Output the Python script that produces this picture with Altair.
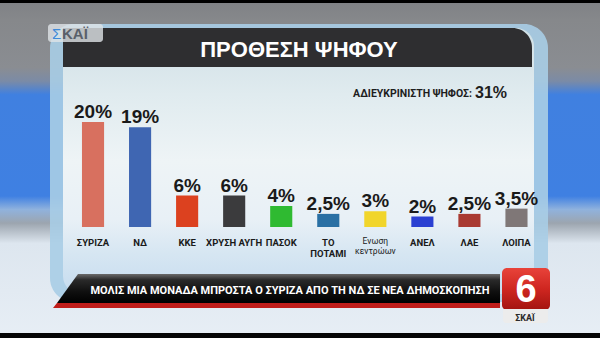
import altair as alt
import pandas as pd

# ---- data ----
parties = ["ΣΥΡΙΖΑ", "ΝΔ", "ΚΚΕ", "ΧΡΥΣΗ ΑΥΓΗ", "ΠΑΣΟΚ", "ΤΟ ΠΟΤΑΜΙ",
           "Ενωση κεντρώων", "ΑΝΕΛ", "ΛΑΕ", "ΛΟΙΠΑ"]
tick_labels = ["ΣΥΡΙΖΑ", "ΝΔ", "ΚΚΕ", "ΧΡΥΣΗ ΑΥΓΗ", "ΠΑΣΟΚ", "ΤΟ\nΠΟΤΑΜΙ",
               "Ενωση\nκεντρώων", "ΑΝΕΛ", "ΛΑΕ", "ΛΟΙΠΑ"]
values = [20, 19, 6, 6, 4, 2.5, 3, 2, 2.5, 3.5]
value_labels = ["20%", "19%", "6%", "6%", "4%", "2,5%", "3%", "2%", "2,5%", "3,5%"]
colors = ["#d8705f", "#3f66b2", "#dc411f", "#3b3b3d", "#2fba31", "#2a70a4",
          "#f1d52b", "#2b40d2", "#a93a32", "#7f7777"]
title_text = "ΠΡΟΘΕΣΗ ΨΗΦΟΥ"
undecided_label = "ΑΔΙΕΥΚΡΙΝΙΣΤΗ ΨΗΦΟΣ:"
undecided_value = "31%"
banner_text = "ΜΟΛΙΣ ΜΙΑ ΜΟΝΑΔΑ ΜΠΡΟΣΤΑ Ο ΣΥΡΙΖΑ ΑΠΟ ΤΗ ΝΔ ΣΕ ΝΕΑ ΔΗΜΟΣΚΟΠΗΣΗ"

df = pd.DataFrame({"party": parties, "tick": tick_labels, "value": values,
                   "label": value_labels, "color": colors})
df["bold"] = [p != "Ενωση κεντρώων" for p in parties]

NARROW = "Roboto"
SANS = "'Liberation Sans', Arial, sans-serif"

one = alt.Data(values=[{}])


def grad(stops, vertical=True):
    return alt.LinearGradient(
        gradient="linear",
        stops=[alt.GradientStop(offset=o, color=c) for o, c in stops],
        x1=0, x2=0 if vertical else 1, y1=0, y2=1 if vertical else 0)


def rect(x1, x2, y1, y2, **mk):
    return alt.Chart(one).mark_rect(**mk).encode(
        x=alt.value(x1), x2=alt.value(x2), y=alt.value(y1), y2=alt.value(y2))


def txt(x, y, text, **mk):
    return alt.Chart(one).mark_text(text=text, **mk).encode(
        x=alt.value(x), y=alt.value(y))


def poly(points, fill):
    cx, cy, u = 278.0, 290.0, 225.0
    d = "M" + " L".join(f"{(px - cx) / u:.4f},{(py - cy) / u:.4f}" for px, py in points) + " Z"
    return alt.Chart(one).mark_point(shape=d, filled=True, opacity=1, strokeWidth=0,
                                     fill=fill, size=(2 * u) ** 2).encode(
        x=alt.value(cx), y=alt.value(cy))


# ---- background ----
bg = rect(0, 600, 0, 338, color=grad([
    (0, "#7f8185"), (0.06, "#86888b"), (0.2, "#8a8d92"), (0.24, "#7b8ba6"),
    (0.28, "#4080e0"), (0.58, "#3f80e2"), (0.62, "#90b2dd"), (0.66, "#9ca5af"),
    (0.72, "#dde6ef"), (1, "#e7eef5")]))
top_strip = rect(0, 600, 0, 3, color="#000000")
bottom_strip = rect(0, 600, 333, 338, color="#050505")

panel_frame = rect(50, 548, 24, 302, color="#a9cde6", opacity=0.9, cornerRadius=24)
panel_inner = rect(63, 534, 28, 294, cornerRadius=18, color=grad([
    (0, "#cfdfe5"), (0.25, "#e0ebef"), (0.5, "#eef4f6"), (0.72, "#e8f0f6"),
    (0.85, "#d6e6f2"), (1, "#c6dcef")]))
title_bar = rect(63, 532, 28, 67, color="#2e2e30", cornerRadiusTopRight=20)
title = txt(299, 57, title_text, font=SANS, fontSize=22, fontWeight="bold",
            color="#ffffff", align="center", baseline="alphabetic")

logo_box = rect(48, 103, 24, 42, color="#dfe3e7", opacity=0.8, cornerRadius=3)
logo_s = txt(52, 39, "Σ", font=SANS, fontSize=15, color="#3f8ad8",
             align="left", baseline="alphabetic")
logo_k = txt(62, 39, "ΚΑΪ", font=SANS, fontSize=15, fontWeight="bold",
             color="#59606a", align="left", baseline="alphabetic")

und_l = txt(472, 97, undecided_label, font=NARROW, fontSize=10.5, fontWeight="bold",
            color="#1e1e1e", align="right", baseline="alphabetic")
und_v = txt(475, 98, undecided_value, font=SANS, fontSize=16, fontWeight="bold",
            color="#1e1e1e", align="left", baseline="alphabetic")

# ---- bars ----
xs = alt.X("party:N", sort=parties, axis=None,
           scale=alt.Scale(range=[69.5, 540], paddingInner=0.53, paddingOuter=0.265))
ys = alt.Y("value:Q", axis=None, scale=alt.Scale(domain=[0, 20], range=[227, 122]))
base = alt.Chart(df)
bars = base.mark_bar(cornerRadius=0).encode(
    x=xs, y=ys, color=alt.Color("color:N", scale=None))
vlabels = base.mark_text(dy=-4, baseline="alphabetic", fontSize=19, fontWeight="bold",
                         font=SANS, color="#1a1a1a").encode(x=xs, y=ys, text="label:N")
names_b = base.transform_filter("datum.bold").mark_text(
    baseline="alphabetic", fontSize=9.5, fontWeight="bold", font=NARROW,
    color="#1a1a1a", lineBreak="\n", lineHeight=11).encode(
    x=xs, y=alt.value(246), text="tick:N")
names_n = base.transform_filter("!datum.bold").mark_text(
    baseline="alphabetic", fontSize=8.5, font=NARROW,
    color="#1a1a1a", lineBreak="\n", lineHeight=10).encode(
    x=xs, y=alt.value(244), text="tick:N")

# ---- banner ----
banner_black = poly([(78, 274), (500, 274), (500, 303), (57, 303)], grad([
    (0, "#6a6a6a"), (0.2, "#2a2a2a"), (0.6, "#101010"), (1, "#000000")]))
banner_red = poly([(57, 303), (500, 303), (500, 308), (53, 308)], "#c01d1a")
banner_txt = txt(290, 294, banner_text, font=NARROW, fontSize=11, fontWeight="bold",
                 color="#ffffff", align="center", baseline="alphabetic")

six_box = rect(502, 550, 268, 310, cornerRadius=5, color=grad([
    (0, "#e8433a"), (0.5, "#cf2620"), (1, "#a31410")]))
six_tab = rect(503, 548, 309, 323, color="#ececec", cornerRadiusBottomLeft=3,
               cornerRadiusBottomRight=3)
six = txt(526, 302, "6", font=SANS, fontSize=38, fontWeight="bold",
          color="#ffffff", align="center", baseline="alphabetic")
six_lbl = txt(525, 321, "ΣΚΑΪ", font=NARROW, fontSize=9, fontWeight="bold",
              color="#2a2a2a", align="center", baseline="alphabetic")

chart = alt.layer(
    bg, top_strip, bottom_strip, panel_frame, panel_inner, title_bar, title,
    logo_box, logo_s, logo_k, und_l, und_v,
    bars, vlabels, names_b, names_n,
    banner_black, banner_red, banner_txt, six_box, six_tab, six, six_lbl,
).properties(
    width=600, height=338, autosize=alt.AutoSizeParams(type="none"), padding=0,
).configure_view(stroke=None)

chart.save("out.html", embed_options={"renderer": "svg", "actions": False})
